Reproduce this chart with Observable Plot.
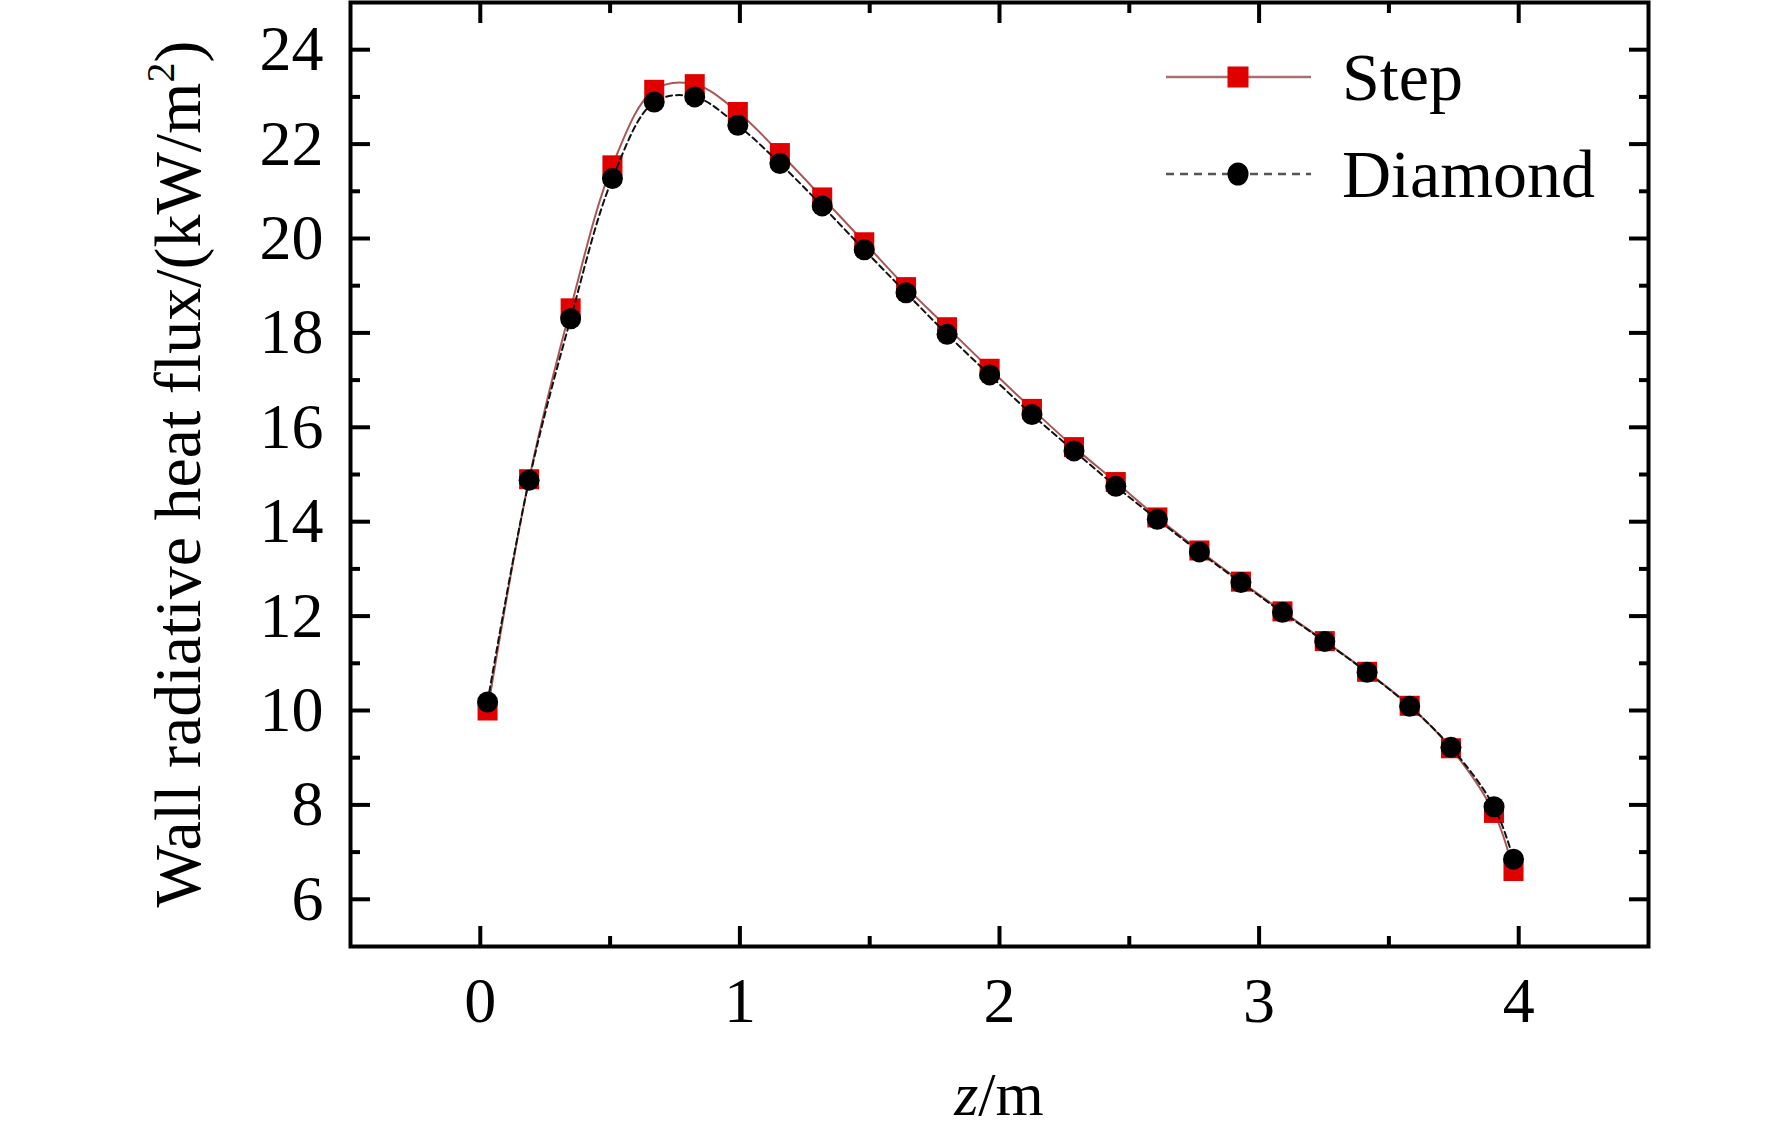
<!DOCTYPE html>
<html>
<head>
<meta charset="utf-8">
<script src="https://cdn.jsdelivr.net/npm/d3@7"></script>
<script src="https://cdn.jsdelivr.net/npm/@observablehq/plot@0.6"></script>
<style>
  html, body { margin: 0; padding: 0; background: #fff; }
  #chart { width: 1772px; height: 1136px; }
</style>
</head>
<body>
<div id="chart"></div>
<script>
// ---- data ----
const zPos = [0.028, 0.188, 0.348, 0.509, 0.670, 0.826, 0.992, 1.154, 1.317, 1.479, 1.640, 1.798, 1.962,
              2.125, 2.287, 2.448, 2.608, 2.770, 2.930, 3.090, 3.253, 3.416, 3.580, 3.739, 3.905, 3.980];
const stepFlux = [10.00, 14.90, 18.52, 21.55, 23.15, 23.27, 22.68, 21.81, 20.87, 19.92, 18.97, 18.12, 17.24,
                  16.39, 15.58, 14.84, 14.09, 13.39, 12.73, 12.10, 11.47, 10.82, 10.10, 9.20, 7.83, 6.60];
const diamondFlux = [10.18, 14.88, 18.30, 21.27, 22.89, 23.00, 22.40, 21.59, 20.69, 19.76, 18.85, 17.97, 17.11,
                     16.27, 15.50, 14.75, 14.05, 13.36, 12.71, 12.08, 11.46, 10.81, 10.09, 9.22, 7.96, 6.85];
const seriesNames = ["Step", "Diamond"];
const xMajorTicks = [0, 1, 2, 3, 4];
const xMinorTicks = [0.5, 1.5, 2.5, 3.5];
const yMajorTicks = [6, 8, 10, 12, 14, 16, 18, 20, 22, 24];
const yMinorTicks = [7, 9, 11, 13, 15, 17, 19, 21, 23];
const xTitle = ["z", "/m"];
const yTitle = ["Wall radiative heat flux/(kW/m", "2", ")"];

const stepData = zPos.map((z, i) => ({z, v: stepFlux[i]}));
const diamondData = zPos.map((z, i) => ({z, v: diamondFlux[i]}));

const FONT = "'Liberation Serif', 'Times New Roman', serif";
const W = 1772, H = 1136;
const mL = 350, mR = 124, mT = 2, mB = 190;
const fmt = d => String(d);

const tickAxes = [];
for (const anchor of ["left", "right"]) {
  tickAxes.push(Plot.axisY({anchor, ticks: yMajorTicks, tickSize: -20, strokeWidth: 4, fill: "none", label: null}));
  tickAxes.push(Plot.axisY({anchor, ticks: yMinorTicks, tickSize: -10, strokeWidth: 4, fill: "none", label: null}));
}
for (const anchor of ["bottom", "top"]) {
  tickAxes.push(Plot.axisX({anchor, ticks: xMajorTicks, tickSize: -20, strokeWidth: 4, fill: "none", label: null}));
  tickAxes.push(Plot.axisX({anchor, ticks: xMinorTicks, tickSize: -10, strokeWidth: 4, fill: "none", label: null}));
}

const plot = Plot.plot({
  width: W, height: H,
  marginLeft: mL, marginRight: mR, marginTop: mT, marginBottom: mB,
  style: {fontFamily: FONT, fontSize: "64px", color: "#000", background: "#fff"},
  x: {domain: [-0.5, 4.5]},
  y: {domain: [5, 25]},
  marks: [
    Plot.line(stepData, {x: "z", y: "v", stroke: "#a85656", strokeWidth: 2, curve: "catmull-rom"}),
    Plot.dot(stepData, {x: "z", y: "v", symbol: "square", r: 11.3, fill: "#e00000", stroke: "none"}),
    Plot.line(diamondData, {x: "z", y: "v", stroke: "#111", strokeWidth: 2, strokeDasharray: "6,4", curve: "catmull-rom"}),
    Plot.dot(diamondData, {x: "z", y: "v", symbol: "circle", r: 10.5, fill: "#000", stroke: "none"}),
    ...tickAxes,
    Plot.axisY({anchor: "left", ticks: yMajorTicks, tickFormat: fmt, tickSize: 0, tickPadding: 27, fontSize: 64, label: null}),
    Plot.axisX({anchor: "bottom", ticks: xMajorTicks, tickFormat: fmt, tickSize: 0, tickPadding: 30, fontSize: 64, label: null}),
    Plot.frame({stroke: "#000", strokeWidth: 4})
  ]
});
document.getElementById("chart").appendChild(plot);

// ---- axis titles and legend (annotations added into the same SVG) ----
const svg = d3.select(plot);
const cx = (mL + (W - mR)) / 2;
const cy = (mT + (H - mB)) / 2;

const xt = svg.append("text")
  .attr("x", cx).attr("y", 1115)
  .attr("text-anchor", "middle")
  .attr("font-family", FONT).attr("font-size", 62).attr("fill", "#000");
xt.append("tspan").attr("font-style", "italic").text(xTitle[0]);
xt.append("tspan").text(xTitle[1]);

const yt = svg.append("text")
  .attr("transform", `translate(200,${cy}) rotate(-90)`)
  .attr("text-anchor", "middle")
  .attr("font-family", FONT).attr("font-size", 66).attr("fill", "#000");
yt.append("tspan").text(yTitle[0]);
yt.append("tspan").attr("font-size", 40).attr("dy", -26).text(yTitle[1]);
yt.append("tspan").attr("dy", 26).text(yTitle[2]);

// legend
const leg = svg.append("g");
const rows = [
  {name: seriesNames[0], y: 77, stroke: "#a87070", dash: null, sym: "square", fill: "#e00000"},
  {name: seriesNames[1], y: 174, stroke: "#555", dash: "8,6", sym: "circle", fill: "#000"}
];
for (const r of rows) {
  leg.append("line").attr("x1", 1166).attr("x2", 1311).attr("y1", r.y).attr("y2", r.y)
    .attr("stroke", r.stroke).attr("stroke-width", 2.5).attr("stroke-dasharray", r.dash);
  if (r.sym === "square") {
    leg.append("rect").attr("x", 1238 - 10.5).attr("y", r.y - 10.5).attr("width", 21).attr("height", 21).attr("fill", r.fill);
  } else {
    leg.append("ellipse").attr("cx", 1238).attr("cy", r.y).attr("rx", 10.5).attr("ry", 11.5).attr("fill", r.fill);
  }
  leg.append("text").attr("x", 1342).attr("y", r.y + 23)
    .attr("text-anchor", "start")
    .attr("font-family", FONT).attr("font-size", 68).attr("fill", "#000").text(r.name);
}
</script>
</body>
</html>
